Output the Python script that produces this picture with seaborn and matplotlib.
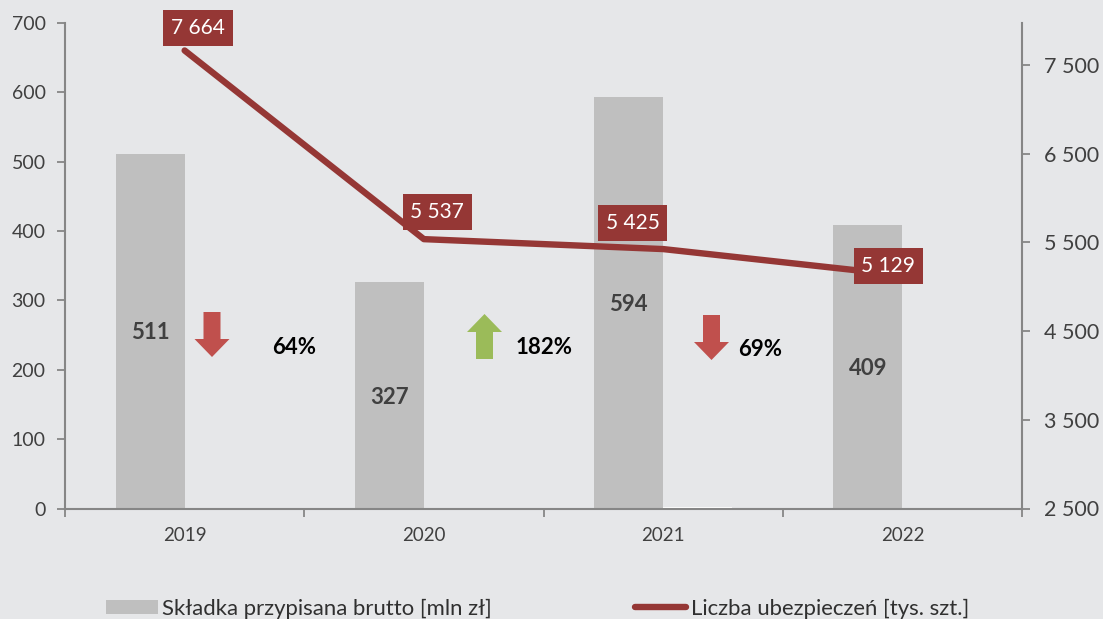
import matplotlib
matplotlib.use("Agg")
import matplotlib.pyplot as plt
import seaborn as sns
import pandas as pd
from matplotlib.patches import Polygon
from matplotlib.lines import Line2D
from matplotlib.patches import Patch

years = ["2019", "2020", "2021", "2022"]
premium = [511, 327, 594, 409]
other = [0, 0, 2, 0]
policies = [7664, 5537, 5425, 5129]
policy_labels = ["7 664", "5 537", "5 425", "5 129"]
left_ticks = [0, 100, 200, 300, 400, 500, 600, 700]
right_ticks = [2500, 3500, 4500, 5500, 6500, 7500]
right_labels = ["2 500", "3 500", "4 500", "5 500", "6 500", "7 500"]
changes = ["64%", "182%", "69%"]
name_bar = "Składka przypisana brutto [mln zł]"
name_line = "Liczba ubezpieczeń [tys. szt.]"

BG = "#E6E7E9"
GREY = "#BFBFBF"
DARK = "#953735"
AXC = "#868686"
TXT = "#404040"
W, H = 1103, 619

sns.set_theme(style="white")
plt.rcParams["font.family"] = ["Lato", "DejaVu Sans"]

fig = plt.figure(figsize=(W / 100, H / 100), dpi=100, facecolor=BG)
ax = fig.add_axes([65 / W, 1 - 508.5 / H, (1022 - 65) / W, (508.5 - 23) / H], facecolor=BG)

df = pd.DataFrame({
    "year": years * 2,
    "value": premium + other,
    "series": ["a"] * 4 + ["b"] * 4,
})
sns.barplot(data=df, x="year", y="value", hue="series", hue_order=["a", "b"],
            palette={"a": GREY, "b": "white"}, width=0.577, gap=0, legend=False,
            saturation=1, ax=ax, linewidth=0)
ax.set_xlim(-0.5, 3.5)
ax.set_ylim(0, 700)
ax.set_xlabel("")
ax.set_ylabel("")
ax.set_yticks(left_ticks)
ax.set_xticks([-0.5, 0.5, 1.5, 2.5, 3.5])
ax.set_xticklabels([])
ax.tick_params(axis="x", length=5.5, width=1.3, color=AXC, direction="out", bottom=True)
ax.tick_params(axis="y", length=5.5, width=1.3, color=AXC, direction="out", left=True,
               labelsize=14, labelcolor=TXT, pad=8.5)
for s in ["top", "right"]:
    ax.spines[s].set_visible(False)
for s in ["left", "bottom"]:
    ax.spines[s].set_color(AXC)
    ax.spines[s].set_linewidth(1.5)
for i, y in enumerate(years):
    ax.text(i, -39, y, ha="center", va="center", fontsize=13.5, color=TXT)

# values inside the bars
label_y = [254, 160, 294, 202]
for i, v in enumerate(premium):
    ax.text(i - 0.144, label_y[i], str(v), ha="center", va="center",
            fontsize=16, fontweight="bold", color=TXT)

# line on the secondary axis
ax2 = ax.twinx()
ax2.set_facecolor("none")
pos = list(range(len(years)))
sns.lineplot(x=pos, y=policies, color=DARK, linewidth=4.6, ax=ax2, legend=False,
             solid_capstyle="round", errorbar=None)
ax2.set_xlim(-0.5, 3.5)
ax2.set_ylim(2500, 7974)
ax2.set_yticks(right_ticks)
ax2.set_yticklabels(right_labels)
ax2.set_ylabel("")
ax2.tick_params(axis="y", length=5.5, width=1.3, color=AXC, direction="out", right=True,
                labelsize=15.5, labelcolor=TXT, pad=10)
for s in ["top", "left", "bottom"]:
    ax2.spines[s].set_visible(False)
ax2.spines["right"].set_color(AXC)
ax2.spines["right"].set_linewidth(1.5)

# dark value labels, placed by pixel offset from their points
offs = [(13.5, 24.5), (13.5, 29), (-30.5, 28), (-14, 11)]
for i, (v, t) in enumerate(zip(policies, policy_labels)):
    ax2.annotate(t, (i, v), xytext=offs[i], textcoords="offset pixels",
                 ha="center", va="center_baseline", color="white", fontsize=15,
                 bbox=dict(boxstyle="square,pad=0.38", fc=DARK, ec="none"), zorder=6)


def px(x, y):
    return (x / W, 1 - y / H)


def arrow(cx, top, bot, half_w, half_s, head, up, color):
    if up:
        pts = [(cx, top), (cx + half_w, top + head), (cx + half_s, top + head),
               (cx + half_s, bot), (cx - half_s, bot), (cx - half_s, top + head),
               (cx - half_w, top + head)]
    else:
        pts = [(cx, bot), (cx + half_w, bot - head), (cx + half_s, bot - head),
               (cx + half_s, top), (cx - half_s, top), (cx - half_s, bot - head),
               (cx - half_w, bot - head)]
    fig.add_artist(Polygon([px(*p) for p in pts], closed=True, transform=fig.transFigure,
                           fc=color, ec="none", zorder=8))


arrow(212, 312, 357, 17.5, 8.5, 18, False, "#C0504D")
arrow(484.5, 314, 359, 17.5, 8.5, 18, True, "#9BBB59")
arrow(711.5, 315, 360, 17.5, 8.5, 18, False, "#C0504D")
for t, x, y in zip(changes, [294.5, 544, 760.5], [347.5, 347.5, 349]):
    fig.text(*px(x, y), t, ha="center", va="center", fontsize=16, fontweight="bold", color="black")

# legend
handles = [Patch(fc=GREY, ec="none"), Line2D([0], [0], color=DARK, lw=4.6, solid_capstyle="round")]
leg = fig.legend(handles, [name_bar, name_line], ncol=2, frameon=False,
                 loc="center left", bbox_to_anchor=(106 / W, 1 - 608.5 / H),
                 borderaxespad=0, borderpad=0, fontsize=15.9, labelcolor="#303030",
                 handlelength=2.35, handleheight=0.64, handletextpad=0.2, columnspacing=6.45)

fig.savefig("out.png", dpi=100, facecolor=BG)
